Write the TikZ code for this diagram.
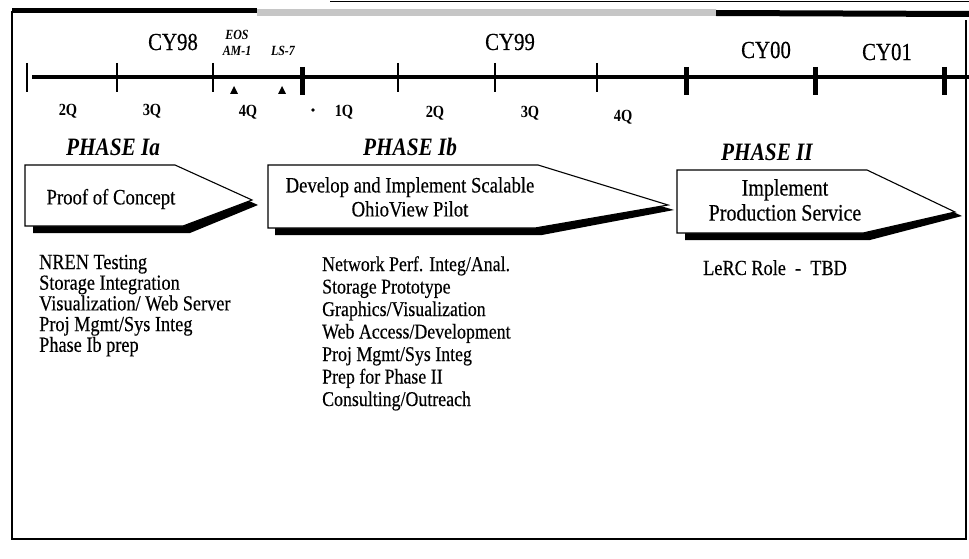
\documentclass[tikz,border=0pt]{standalone}
\usepackage{fontspec}
\setmainfont[FakeStretch=0.85,UprightFeatures={FakeBold=0.3}]{Liberation Serif}
\usetikzlibrary{positioning}

\tikzset{
  yeartxt/.style={font=\fontsize{24.5}{26}\selectfont},
  qtrtxt/.style={font=\fontsize{17}{19}\selectfont\bfseries},
  eventtxt/.style={font=\fontsize{14}{15}\selectfont\bfseries\itshape,inner sep=0pt},
  phasetxt/.style={font=\fontsize{25}{26}\selectfont\bfseries\itshape},
  boxtxt/.style={font=\fontsize{22}{24}\selectfont,align=center},
  itemtxt/.style={font=\fontsize{21.5}{22}\selectfont,anchor=west,inner sep=0pt,
    text height=14pt,text depth=4pt},
  phasebox/.style={draw=black,fill=white,line width=1.1pt},
  boxshadow/.style={fill=black}
}

\begin{document}
\begin{tikzpicture}[x=1pt,y=-1pt]
\useasboundingbox (0,0) rectangle (969,559);
% frame
\draw[line width=1.8pt] (12,11) -- (12,539) -- (966,539) -- (966,20);
\draw[line width=5pt] (12,11) -- (257,11);
\fill[gray!45] (257,9) rectangle (716,16);
\draw[line width=6pt] (716,13) -- (969,14);
\draw[line width=1pt] (330,1.5) -- (969,1.5);

% time line
\draw[line width=4pt] (32,77) -- (973,77);
\foreach \x in {27,117,213,398,495,597}
  \draw[line width=1.2pt] (\x,63) -- (\x,92);
\foreach \x in {302,686,815,944}
  \draw[line width=5pt] (\x,67) -- (\x,95);

% years
\node[yeartxt] (cy98) at (173,42) {CY98};
\node[yeartxt] (cy99) at (510,42) {CY99};
\node[yeartxt] (cy00) at (766,50) {CY00};
\node[yeartxt] (cy01) at (887,52) {CY01};

% launches
\node[eventtxt] (eos) at (237,35) {EOS};
\node[eventtxt] (am1) at (237,51) {AM-1};
\node[eventtxt] (ls7) at (283,51) {LS-7};
\fill (230,94) -- (238,94) -- (234,86) -- cycle;
\fill (278,94) -- (286,94) -- (282,86) -- cycle;

% quarters
\node[qtrtxt] (q2a) at (68,111) {2Q};
\node[qtrtxt] (q3a) at (152,111) {3Q};
\node[qtrtxt] (q4a) at (248,112) {4Q};
\fill (313,110) circle (1.8);
\node[qtrtxt] (q1b) at (344,112) {1Q};
\node[qtrtxt] (q2b) at (435,113) {2Q};
\node[qtrtxt] (q3b) at (530,113) {3Q};
\node[qtrtxt] (q4b) at (623,117) {4Q};

% phase Ia
\node[phasetxt] (phIa) at (113,147) {PHASE Ia};
\fill[boxshadow] (33,171) -- (182,171) -- (258,205) -- (190,233) -- (33,233) -- cycle;
\draw[phasebox] (25,165) -- (175,165) -- (252,200) -- (183,226) -- (25,226) -- cycle;
\node[boxtxt] (poc) at (111,199) {Proof of Concept};

% phase Ib
\node[phasetxt] (phIb) at (410,147) {PHASE Ib};
\fill[boxshadow] (275,171) -- (545,171) -- (674,210) -- (542,235) -- (275,235) -- cycle;
\draw[phasebox] (268,165) -- (538,165) -- (668,205) -- (535,228) -- (268,228) -- cycle;
\node[boxtxt] (pilot) at (410,197) {Develop and Implement Scalable\\OhioView Pilot};

% phase II
\node[phasetxt] (phII) at (767,152) {PHASE II};
\fill[boxshadow] (685,176) -- (874,176) -- (962,216) -- (870,240) -- (685,240) -- cycle;
\draw[phasebox] (677,170) -- (867,170) -- (955,212) -- (863,233) -- (677,233) -- cycle;
\node[boxtxt,font=\fontsize{23.5}{25}\selectfont] (prod) at (785,200) {Implement\\Production Service};

% task lists
\foreach \t [count=\i] in {NREN Testing,Storage Integration,Visualization/ Web Server,
    Proj Mgmt/Sys Integ,Phase Ib prep}
  \node[itemtxt] (ia\i) at (39,264+20.7*\i-20.7) {\t};
\foreach \t [count=\i] in {Network Perf. Integ/Anal.,Storage Prototype,Graphics/Visualization,
    Web Access/Development,Proj Mgmt/Sys Integ,Prep for Phase II,Consulting/Outreach}
  \node[itemtxt,font=\fontsize{21}{22}\selectfont] (ib\i) at (322,266+22.5*\i-22.5) {\t};
\node[itemtxt] (lerc) at (703,270) {LeRC Role\ \ -\ \ TBD};
\end{tikzpicture}
\end{document}
